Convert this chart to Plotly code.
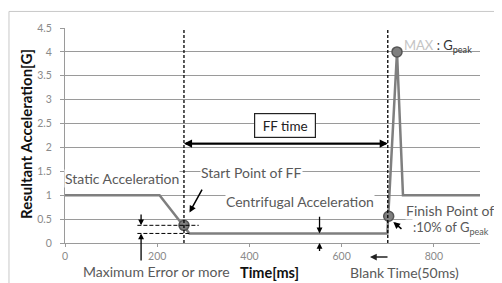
import plotly.graph_objects as go

# ---- data ----
time_ms = [0, 205, 270, 699, 720, 733, 900]
accel_g = [1.0, 1.0, 0.2, 0.2, 4.0, 1.0, 1.0]

point_time_ms = [258, 702, 720]
point_accel_g = [0.37, 0.56, 4.0]

ff_start_ms = 258
ff_end_ms = 700
ff_arrow_g = 2.08

x_ticks = [0, 200, 400, 600, 800]
y_ticks = [0, 0.5, 1, 1.5, 2, 2.5, 3, 3.5, 4, 4.5]
y_tick_labels = ["0", "0.5", "1", "1.5", "2", "2.5", "3", "3.5", "4", "4.5"]

err_x_ms = 165
err_levels_g = [0.37, 0.2]
err_dash_x_ms = [157, 290]
centri_x_ms = 552
centri_levels_g = [0.2, 0.0]

FONT = "Lato"
TXT = "#595959"
GREY = "#7f7f7f"

fig = go.Figure()
fig.add_trace(go.Scatter(x=time_ms, y=accel_g, mode="lines",
                         line=dict(color=GREY, width=2.5), hoverinfo="skip"))
fig.add_trace(go.Scatter(x=point_time_ms, y=point_accel_g, mode="markers",
                         marker=dict(color=GREY, size=10, line=dict(color="#555555", width=1.5)),
                         hoverinfo="skip"))

shapes = []
# dashed vertical lines
for xv in [ff_start_ms, ff_end_ms]:
    shapes.append(dict(type="line", xref="x", yref="y", x0=xv, x1=xv, y0=0, y1=4.5,
                       line=dict(color="black", width=1.3, dash="3px,2px")))
# dashed horizontals for error
shapes.append(dict(type="line", xref="x", yref="y", x0=err_dash_x_ms[0], x1=err_dash_x_ms[1],
                   y0=err_levels_g[0], y1=err_levels_g[0], line=dict(color="black", width=1, dash="4px,2px")))
shapes.append(dict(type="line", xref="x", yref="y", x0=err_dash_x_ms[0], x1=270,
                   y0=err_levels_g[1], y1=err_levels_g[1], line=dict(color="black", width=1, dash="4px,2px")))
# outer frame
shapes.append(dict(type="rect", xref="paper", yref="paper", x0=-0.135, x1=1.2, y0=-0.5, y1=1.077,
                   line=dict(color="#c8c8c8", width=1), layer="below"))

annotations = []
def txt(x, y, s, xanchor="center", size=14, color=TXT, bg="white", xref="x", yref="y", **kw):
    d = dict(x=x, y=y, xref=xref, yref=yref, text=s, showarrow=False,
             xanchor=xanchor, yanchor="middle",
             font=dict(family=FONT, size=size, color=color), borderpad=0, **kw)
    if bg:
        d["bgcolor"] = bg
    annotations.append(d)

def arrow(x, y, ax, ay, width=1.5, head=2, size=1.0, color="black"):
    annotations.append(dict(x=x, y=y, ax=ax, ay=ay, xref="x", yref="y", axref="x", ayref="y",
                            text="", showarrow=True, arrowhead=head, arrowsize=size,
                            arrowwidth=width, arrowcolor=color, standoff=0, startstandoff=0))

# FF time double arrow
arrow(ff_end_ms, ff_arrow_g, ff_start_ms, ff_arrow_g, width=1.8, size=0.9)
arrow(ff_start_ms, ff_arrow_g, ff_end_ms, ff_arrow_g, width=1.8, size=0.9)
annotations.append(dict(x=478, y=2.45, xref="x", yref="y", text="FF time", showarrow=False,
                        bgcolor="white", bordercolor="#222", borderwidth=1.2, borderpad=0,
                        width=60, height=23,
                        font=dict(family=FONT, size=13.5, color="#222")))

# max error arrows
arrow(err_x_ms, err_levels_g[0], err_x_ms, 0.63, width=1.3, size=0.9)
arrow(err_x_ms, err_levels_g[1], err_x_ms, -0.4, width=1.3, size=0.9)
# centrifugal arrows
arrow(centri_x_ms, centri_levels_g[0], centri_x_ms, 0.58, width=1.3, size=0.9)
arrow(centri_x_ms, centri_levels_g[1], centri_x_ms, -0.2, width=1.3, size=0.9)

# start point arrow
arrow(270, 0.64, 299, 1.15, width=1.5, size=0.9)
# finish point arrow
arrow(712, 0.44, 733, 0.27, width=1.5, size=0.9)

txt(124, 1.36, "Static Acceleration")
txt(292, 1.47, "Start Point of FF", xanchor="left")
txt(510, 0.86, "Centrifugal Acceleration")
txt(737, 0.69, "Finish Point of FF", xanchor="left")
txt(753, 0.31, ":10% of G<sub>peak</sub>", xanchor="left", size=13)
annotations.append(dict(x=731, y=4.13, xref="x", yref="y", showarrow=False, xanchor="left",
                        yanchor="middle",
                        text="<span style='color:#c4c4c4'>MAX</span><span style='color:#333'> : G<sub>peak</sub></span>",
                        font=dict(family=FONT, size=13)))

# texts below the axis (paper coords); positions measured in page pixels
def px_to_paper(px, py):
    return (px - 65) / 415.0, (243 - py) / 215.0

x_, y_ = px_to_paper(156, 271)
txt(x_, y_, "Maximum Error or more", xref="paper", yref="paper", bg=None)
x_, y_ = px_to_paper(269, 272)
txt(x_, y_, "<b>Time[ms]</b>", xref="paper", yref="paper", bg=None, size=14.5, color="#111")
x_, y_ = px_to_paper(404, 272)
txt(x_, y_, "Blank Time(50ms)", xref="paper", yref="paper", bg=None)
x_, y_ = px_to_paper(26, 134)
txt(x_, y_, "<b>Resultant Acceleration[G]</b>", xref="paper", yref="paper", bg=None,
    size=15, color="#111", textangle=-90)
hx0, hy = px_to_paper(370, 257)
annotations.append(dict(x=hx0, y=hy, ax=19, ay=0, xref="paper", yref="paper", axref="pixel",
                        ayref="pixel", text="", showarrow=True, arrowhead=2, arrowsize=0.9,
                        arrowwidth=1.5, arrowcolor="#222"))

# page body has an 8px margin: figure sized to fit the window, plot area placed to match
fig.update_layout(
    width=494, height=275,
    margin=dict(l=57, r=22, t=20, b=40),
    paper_bgcolor="white", plot_bgcolor="white",
    showlegend=False,
    shapes=shapes, annotations=annotations,
    font=dict(family=FONT, size=10, color="#808080"),
)
fig.update_xaxes(range=[0, 900], tickvals=x_ticks, ticktext=[str(v) for v in x_ticks],
                 showgrid=False, zeroline=False, showline=True, linecolor="#9a9a9a",
                 ticks="outside", ticklen=3, tickcolor="#9a9a9a",
                 tickfont=dict(family=FONT, size=10.5, color="#8a8a8a"))
fig.update_yaxes(range=[0, 4.5], tickvals=y_ticks, ticktext=y_tick_labels,
                 showgrid=True, gridcolor="#9a9a9a", gridwidth=1, zeroline=False,
                 showline=True, linecolor="#9a9a9a", ticks="outside", ticklen=4,
                 tickcolor="#9a9a9a", ticklabelstandoff=6,
                 tickfont=dict(family=FONT, size=10.5, color="#8a8a8a"))

fig.write_html("out.html")
